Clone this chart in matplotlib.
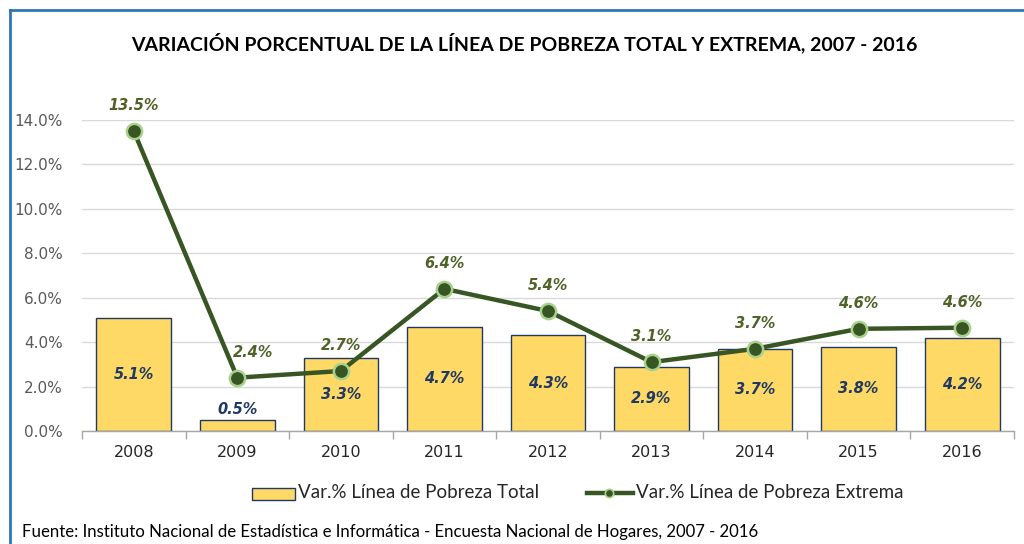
import matplotlib
matplotlib.use("Agg")
import matplotlib.pyplot as plt
from matplotlib.patches import Rectangle
from matplotlib.lines import Line2D
from matplotlib.ticker import FuncFormatter, MultipleLocator

years = ["2008", "2009", "2010", "2011", "2012", "2013", "2014", "2015", "2016"]
pobreza_total = [5.1, 0.5, 3.3, 4.7, 4.3, 2.9, 3.7, 3.8, 4.2]
pobreza_extrema = [13.5, 2.4, 2.7, 6.4, 5.4, 3.1, 3.7, 4.6, 4.65]
extrema_labels = ["13.5%", "2.4%", "2.7%", "6.4%", "5.4%", "3.1%", "3.7%", "4.6%", "4.6%"]
label_dx = [0, 11, 0, 0, 0, 0, 0, 0, 0]  # label offsets in points

title = "VARIACIÓN PORCENTUAL DE LA LÍNEA DE POBREZA TOTAL Y EXTREMA, 2007 - 2016"
source = "Fuente: Instituto Nacional de Estadística e Informática - Encuesta Nacional de Hogares, 2007 - 2016"
leg_total = "Var.% Línea de Pobreza Total"
leg_extrema = "Var.% Línea de Pobreza Extrema"

BAR = "#FFD966"
BAR_EDGE = "#1F3864"
LINE = "#375623"
MARK_EDGE = "#A9D18E"
LBL_GREEN = "#4F6228"

W, H = 1024, 544
fig = plt.figure(figsize=(W/100, H/100), dpi=100)
ax = fig.add_axes([82/W, 1-431/H, (1014-82)/W, (431-120)/H])

x = list(range(len(years)))
ax.bar(x, pobreza_total, width=0.72, color=BAR, edgecolor=BAR_EDGE, linewidth=1.0, zorder=2)
ax.plot(x, pobreza_extrema, color=LINE, linewidth=3.2, marker="o", markersize=11,
        markerfacecolor=LINE, markeredgecolor=MARK_EDGE, markeredgewidth=1.8, zorder=3)

for xi, v in zip(x, pobreza_total):
    if v < 1.0:
        ax.text(xi, v + 0.15, f"{v:.1f}%", ha="center", va="bottom", color=BAR_EDGE,
                fontsize=10.5, fontweight="bold", fontstyle="italic", zorder=4)
    else:
        ax.text(xi, v/2, f"{v:.1f}%", ha="center", va="center", color=BAR_EDGE,
                fontsize=10.5, fontweight="bold", fontstyle="italic", zorder=4)

for xi, v, lab, dx in zip(x, pobreza_extrema, extrema_labels, label_dx):
    ax.annotate(lab, (xi, v), xytext=(dx, 13), textcoords="offset points", ha="center", va="bottom",
                color=LBL_GREEN, fontsize=10.5, fontweight="bold", fontstyle="italic",
                annotation_clip=False, zorder=4)

ax.set_xlim(-0.5, len(years)-0.5)
ax.set_ylim(0, 14)
ax.yaxis.set_major_locator(MultipleLocator(2))
ax.yaxis.set_major_formatter(FuncFormatter(lambda v, p: f"{v:.1f}%"))
ax.grid(axis="y", color="#D9D9D9", linewidth=1.0, zorder=0)
ax.set_axisbelow(True)
for s in ["top", "right", "left"]:
    ax.spines[s].set_visible(False)
ax.spines["bottom"].set_color("#A6A6A6")
ax.spines["bottom"].set_linewidth(1.0)
ax.tick_params(axis="y", length=0, labelsize=11, labelcolor="#595959", pad=14)
ax.set_xticks(x)
ax.set_xticklabels(years)
ax.tick_params(axis="x", length=0, labelsize=11.5, labelcolor="#262626", pad=10)
ax.set_xticks([i + 0.5 for i in range(-1, len(years))], minor=True)
ax.tick_params(axis="x", which="minor", length=6, color="#A6A6A6", width=1.0, direction="out")

fig.text(524/W, 1-43/H, title, ha="center", va="center", fontsize=14,
         fontweight="bold", family="Lato", color="#000000")

# legend drawn manually
fig.add_artist(Rectangle((252/W, 1-500/H), 43/W, 12/H, transform=fig.transFigure,
                         facecolor=BAR, edgecolor=BAR_EDGE, linewidth=1.0))
fig.text(298/W, 1-493/H, leg_total, ha="left", va="center", fontsize=13.5, family="Lato",
         color="#262626")
fig.add_artist(Line2D([587/W, 633/W], [1-493/H, 1-493/H], transform=fig.transFigure,
                      color=LINE, linewidth=3.2))
fig.add_artist(Line2D([609/W], [1-493/H], transform=fig.transFigure, marker="o", markersize=6,
                      markerfacecolor=LINE, markeredgecolor=MARK_EDGE, markeredgewidth=1.2))
fig.text(636/W, 1-493/H, leg_extrema, ha="left", va="center", fontsize=13.5, family="Lato",
         color="#262626")

fig.text(22/W, 1-532/H, source, ha="left", va="center", fontsize=12.1, family="Lato", color="#000000")

# blue border lines (left and top)
fig.add_artist(Line2D([10/W, 10/W], [0, 1-10/H], transform=fig.transFigure, color="#2E75B6", linewidth=2))
fig.add_artist(Line2D([10/W, 1], [1-10/H, 1-10/H], transform=fig.transFigure, color="#2E75B6", linewidth=2))

fig.savefig("out.png", dpi=100)
